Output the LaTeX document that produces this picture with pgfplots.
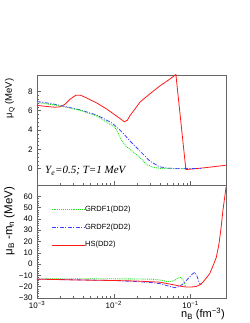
\documentclass[border=0pt]{standalone}
\usepackage{fontspec}
\setmainfont{Liberation Sans}
\newfontfamily\timesfont{Liberation Serif}
\usepackage{pgfplots}
\pgfplotsset{compat=1.18}
\definecolor{rgreen}{rgb}{0.1,0.9,0.1}
\definecolor{rblue}{rgb}{0.25,0.25,1}
\definecolor{rred}{rgb}{1,0.1,0.1}
\pgfplotsset{
  rootstyle/.style={
    scale only axis, width=189pt,
    xmin=1e-3, xmax=0.29,
    axis line style={black!60, line width=0.5pt},
    tick align=inside, xtick pos=left, ytick pos=left,
    major tick length=4pt, minor tick length=2pt,
    every tick/.style={black!60, line width=0.4pt},
    xtick={1e-3,1e-2,1e-1},
    tick label style={font=\fontsize{8}{9}\selectfont},
    yticklabel style={xshift=-1pt},
    minor y tick num=4,
  },
  grdfone/.style={rgreen, densely dotted, line width=0.9pt},
  grdftwo/.style={rblue, line width=0.8pt, dash pattern=on 4pt off 1.5pt on 1pt off 1.5pt},
  hsstyle/.style={rred, line width=0.8pt},
}
\begin{document}
\begin{tikzpicture}
\path[use as bounding box] (0,0) rectangle (249pt,323pt);
% top panel
\begin{semilogxaxis}[rootstyle, at={(37pt,138pt)}, anchor=south west, height=110pt,
  ymin=-1.7, ymax=9.7, ytick={0,2,4,6,8}, yticklabels={0,2,4,6,8},
  xticklabels={}]
\addplot[hsstyle] coordinates {
(1e-3,6.55) (1.3e-3,6.45) (1.7e-3,6.36) (2.0e-3,6.4) (2.3e-3,6.65) (2.7e-3,7.2)
(3.2e-3,7.6) (3.7e-3,7.6) (4.5e-3,7.3) (6e-3,6.8) (8e-3,6.2) (0.01,5.65)
(0.012,5.2) (0.0137,4.86) (0.015,5.0) (0.0163,5.5) (0.019,6.2) (0.022,6.9)
(0.0296,7.75) (0.0398,8.56) (0.0535,9.26) (0.0645,9.75) (0.087,-0.1)
(0.12,0.0) (0.18,0.15) (0.29,0.35)};
\addplot[grdftwo] coordinates {
(1e-3,6.95) (1.5e-3,6.75) (2e-3,6.55) (3.6e-3,6.1) (6e-3,5.55) (0.0089,4.85)
(0.0099,4.6) (0.012,4.0) (0.0133,3.65) (0.0163,2.86) (0.022,1.81) (0.0296,0.77)
(0.0398,0.18) (0.05,0.05) (0.065,0.0) (0.137,0.0)};
\addplot[grdfone] coordinates {
(1e-3,6.85) (2e-3,6.5) (3.6e-3,6.05) (6e-3,5.45) (0.0089,4.6) (0.0099,4.4)
(0.0109,4.0) (0.0125,3.0) (0.0145,2.3) (0.0163,2.0) (0.022,1.12) (0.0268,0.42)
(0.0326,0.14) (0.04,0.03) (0.087,0.0)};
\end{semilogxaxis}
% bottom panel
\begin{semilogxaxis}[rootstyle, at={(37pt,25pt)}, anchor=south west, height=113pt,
  ymin=-30, ymax=70, ytick={-30,-20,...,60},
  yticklabels={−30,−20,−10,0,10,20,30,40,50,60},
  xticklabels={10\textsuperscript{−3},10\textsuperscript{−2},10\textsuperscript{−1}},
  legend style={at={(0.074,0.819)}, anchor=north west, draw=none, fill=none,
    font=\fontsize{7.5}{8}\selectfont, row sep=11pt, inner sep=0pt,
    nodes={inner sep=0pt},
    /tikz/every even column/.append style={column sep=9pt}},
  legend cell align=left,
  legend image code/.code={\draw[#1] (0pt,0pt) -- (33pt,0pt);}]
\addplot[grdfone] coordinates {
(1e-3,-13) (0.01,-13) (0.03,-13.3) (0.04,-14) (0.05,-15.5) (0.06,-15)
(0.068,-12.5) (0.075,-11.8) (0.08,-14) (0.086,-19.5)};
\addlegendentry{GRDF1(DD2)}
\addplot[grdftwo] coordinates {
(1e-3,-13.3) (0.01,-14.5) (0.02,-15.5) (0.03,-16.3) (0.04,-17.3) (0.0535,-19.7)
(0.0625,-20.9) (0.072,-19.8) (0.08,-17.5) (0.093,-12.9) (0.105,-9) (0.114,-7.3)
(0.122,-11) (0.13,-16.5) (0.137,-18.5)};
\addlegendentry{GRDF2(DD2)}
\addplot[hsstyle] coordinates {
(1e-3,-13.3) (3e-3,-14) (0.01,-14.5) (0.02,-15) (0.04,-16) (0.059,-18.2)
(0.075,-19.6) (0.088,-20.3) (0.105,-20.2) (0.12,-19.7) (0.135,-18) (0.145,-16)
(0.16,-12.5) (0.178,-8.4) (0.195,-2) (0.217,6) (0.235,18) (0.25,32) (0.265,48)
(0.28,60) (0.29,68)};
\addlegendentry{HS(DD2)}
\end{semilogxaxis}
\node[rotate=90, anchor=south east, inner sep=0pt, font=\fontsize{9.5}{10}\selectfont]
  at (15pt,244.5pt) {μ\textsubscript{Q} (MeV)};
\node[rotate=90, anchor=south east, inner sep=0pt, font=\fontsize{11.5}{12}\selectfont]
  at (15pt,136.3pt) {μ\textsubscript{B} -m\textsubscript{n} (MeV)};
\node[anchor=base east, inner sep=0pt, font=\fontsize{11}{12}\selectfont]
  at (225pt,5.5pt) {n\textsubscript{B} (fm\textsuperscript{−3})};
\node[anchor=west, inner sep=0pt, font=\timesfont\itshape\fontsize{11}{12}\selectfont]
  at (45pt,152pt) {Y\textsubscript{e}=0.5; T=1 MeV};
\end{tikzpicture}
\end{document}
